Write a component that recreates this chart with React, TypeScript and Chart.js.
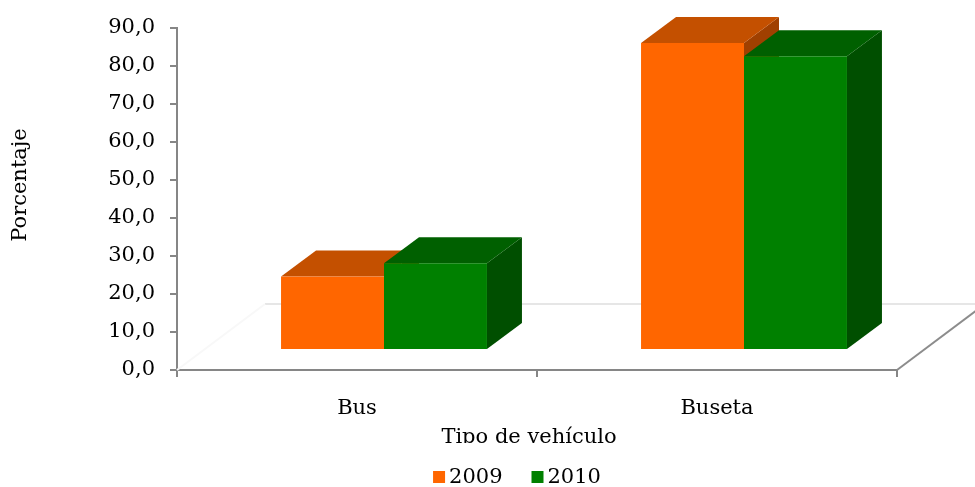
import React, { useEffect, useRef } from 'react';
import { Chart, registerables } from 'chart.js';
Chart.register(...registerables);

const categories = ['Bus', 'Buseta'];
const seriesLabels = ['2009', '2010'];
const values2009 = [19.3, 80.7];
const values2010 = [22.8, 77.2];
const frontColors = ['#FF6600', '#008000'];
const topColors = ['#C45000', '#006000'];
const sideColors = ['#A04000', '#004F00'];
const yTitle = 'Porcentaje';
const xTitle = 'Tipo de vehículo';

const FONT = '"DejaVu Serif", serif';
const DEPTH_X = 35, DEPTH_Y = -26, SHIFT_X = 27, SHIFT_Y = -20;
const FLOOR_X = 88, FLOOR_Y = -66;

const bars3d = {
  id: 'bars3d',
  beforeDatasetsDraw(chart: any) {
    const ctx = chart.ctx;
    const { left, right, bottom } = chart.chartArea;
    ctx.save();
    ctx.lineWidth = 2;
    ctx.strokeStyle = '#E6E6E6';
    ctx.beginPath();
    ctx.moveTo(left + FLOOR_X, bottom + FLOOR_Y);
    ctx.lineTo(chart.width, bottom + FLOOR_Y);
    ctx.stroke();
    ctx.strokeStyle = '#F8F8F8';
    ctx.beginPath();
    ctx.moveTo(left, bottom);
    ctx.lineTo(left + FLOOR_X, bottom + FLOOR_Y);
    ctx.stroke();
    ctx.strokeStyle = '#8C8C8C';
    ctx.beginPath();
    ctx.moveTo(right, bottom);
    ctx.lineTo(right + FLOOR_X, bottom + FLOOR_Y);
    ctx.stroke();

    const n = chart.data.labels.length;
    const dsCount = chart.data.datasets.length;
    for (let j = 0; j < n; j++) {
      for (let i = 0; i < dsCount; i++) {
        const el = chart.getDatasetMeta(i).data[j];
        if (!el) continue;
        const w = el.width;
        const l = el.x - w / 2 + SHIFT_X;
        const r = l + w;
        const t = el.y + SHIFT_Y;
        const b = el.base + SHIFT_Y;
        ctx.fillStyle = sideColors[i];
        ctx.beginPath();
        ctx.moveTo(r, t);
        ctx.lineTo(r + DEPTH_X, t + DEPTH_Y);
        ctx.lineTo(r + DEPTH_X, b + DEPTH_Y);
        ctx.lineTo(r, b);
        ctx.closePath();
        ctx.fill();
        ctx.fillStyle = topColors[i];
        ctx.beginPath();
        ctx.moveTo(l, t);
        ctx.lineTo(l + DEPTH_X, t + DEPTH_Y);
        ctx.lineTo(r + DEPTH_X, t + DEPTH_Y);
        ctx.lineTo(r, t);
        ctx.closePath();
        ctx.fill();
        ctx.fillStyle = frontColors[i];
        ctx.fillRect(l, t, w, b - t);
      }
    }
    ctx.restore();
    return false;
  },
  afterDraw(chart: any) {
    const ctx = chart.ctx;
    ctx.save();
    ctx.fillStyle = '#000';
    ctx.font = `21px ${FONT}`;
    ctx.save();
    ctx.translate(21, 185);
    ctx.rotate(-Math.PI / 2);
    ctx.textAlign = 'center';
    ctx.textBaseline = 'middle';
    ctx.fillText(yTitle, 0, 0);
    ctx.restore();
    const { left, right } = chart.chartArea;
    ctx.save();
    ctx.beginPath();
    ctx.rect(0, 400, chart.width, 43);
    ctx.clip();
    ctx.textAlign = 'center';
    ctx.textBaseline = 'alphabetic';
    ctx.fillText(xTitle, (left + right) / 2 - 8, 443);
    ctx.restore();
    const box = 12, gap = 4, spacing = 29;
    const widths = seriesLabels.map((s) => ctx.measureText(s).width);
    const total = widths.reduce((a, w) => a + box + gap + w, 0) + spacing * (seriesLabels.length - 1);
    let x = 517 - total / 2;
    const cy = 477;
    ctx.textAlign = 'left';
    ctx.textBaseline = 'middle';
    seriesLabels.forEach((s, i) => {
      ctx.fillStyle = frontColors[i];
      ctx.fillRect(x, cy - box / 2, box, box);
      ctx.fillStyle = '#000';
      ctx.fillText(s, x + box + gap, cy + 1);
      x += box + gap + widths[i] + spacing;
    });
    ctx.restore();
  },
};

export default function App() {
  const ref = useRef<HTMLCanvasElement>(null);
  useEffect(() => {
    document.body.style.margin = '0';
    const chart = new Chart(ref.current!, {
      type: 'bar',
      data: {
        labels: categories,
        datasets: [
          { label: seriesLabels[0], data: values2009, backgroundColor: frontColors[0] },
          { label: seriesLabels[1], data: values2010, backgroundColor: frontColors[1] },
        ],
      },
      options: {
        animation: false,
        responsive: true,
        maintainAspectRatio: false,
        layout: { padding: { top: 25, right: 78, left: 0, bottom: 0 } },
        plugins: { legend: { display: false }, tooltip: { enabled: false } },
        datasets: { bar: { categoryPercentage: 0.572, barPercentage: 1 } },
        scales: {
          x: {
            offset: true,
            grid: { offset: true, drawOnChartArea: false, tickLength: 7, color: '#868686', lineWidth: 2 },
            border: { color: '#868686', width: 2 },
            ticks: { color: '#000', padding: 19, font: { family: FONT, size: 21 } },
            afterFit: (s: any) => { s.height = 117; },
          },
          y: {
            min: 0,
            max: 90,
            grid: { drawOnChartArea: false, tickLength: 7, color: '#868686', lineWidth: 2 },
            border: { color: '#868686', width: 2 },
            ticks: {
              stepSize: 10,
              color: '#000',
              padding: 15,
              font: { family: FONT, size: 21 },
              callback: (v: any) => Number(v).toFixed(1).replace('.', ','),
            },
            afterFit: (s: any) => { s.width = 177; },
          },
        },
      },
      plugins: [bars3d],
    });
    return () => chart.destroy();
  }, []);
  return (
    <div style={{ width: 975, height: 487, position: 'relative' }}>
      <canvas ref={ref} />
    </div>
  );
}
